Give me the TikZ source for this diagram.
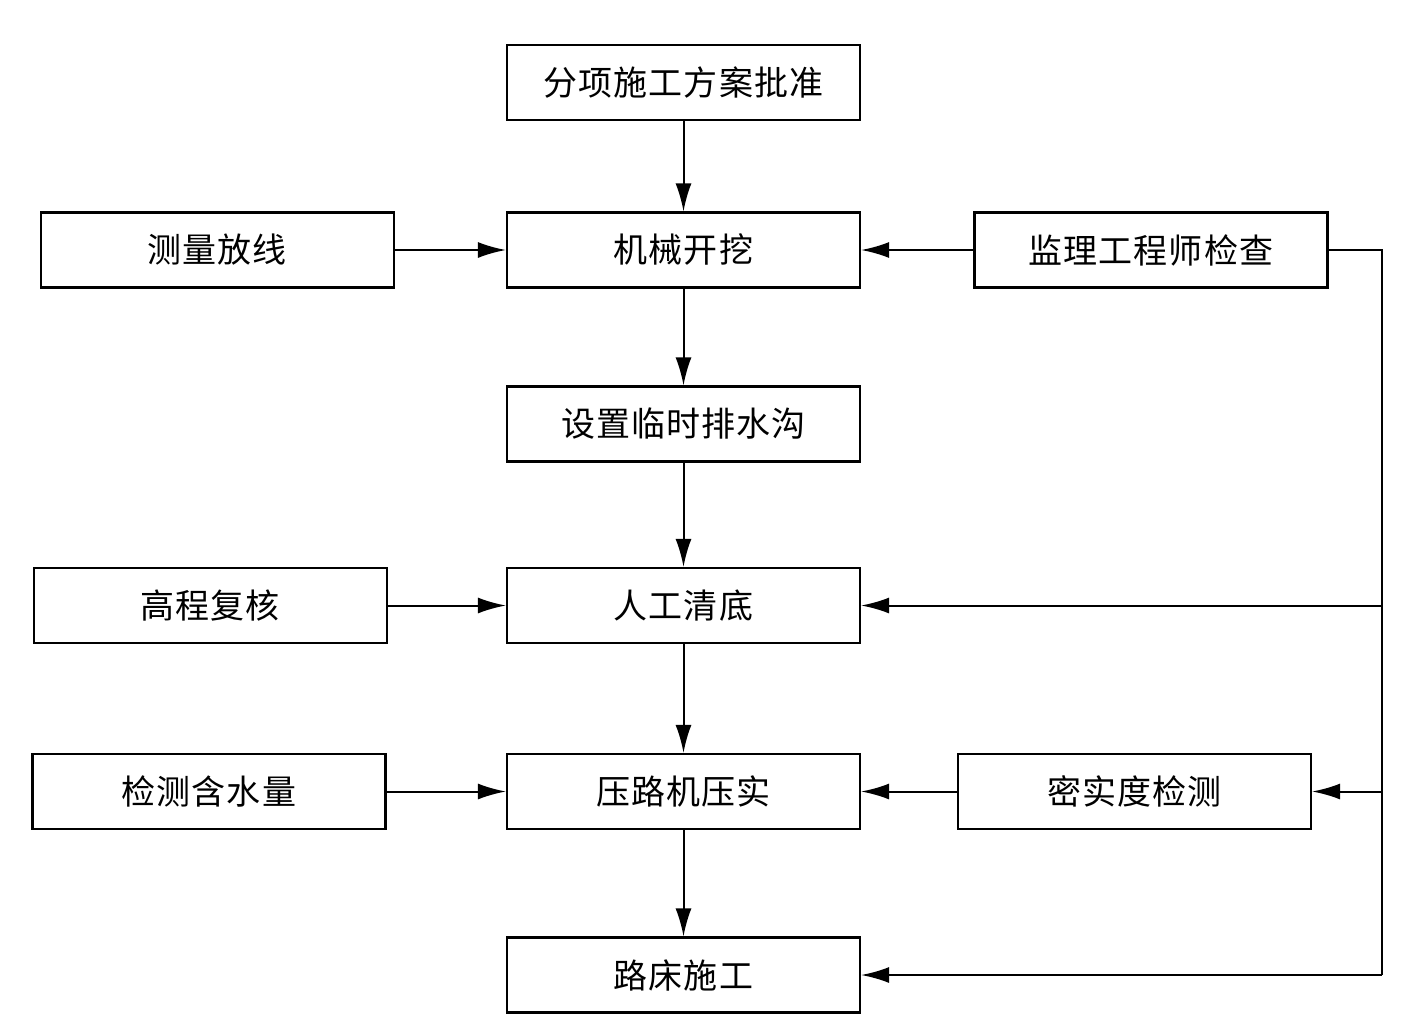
\documentclass[tikz,border=0pt]{standalone}
\usepackage{fontspec}
\setmainfont{Noto Sans CJK SC}
\usetikzlibrary{arrows.meta}
\begin{document}
\begin{tikzpicture}[x=1pt,y=-1pt,
  box/.style={draw,line width=2.2pt,minimum width=353pt,minimum height=75pt,inner sep=0pt,font=\fontsize{34}{34}\selectfont\addfontfeatures{LetterSpace=3}},
  arr/.style={line width=2pt,-{Latex[length=28pt,width=16pt]}},
  ln/.style={line width=2pt}]
\useasboundingbox (0,0) rectangle (1408,1031);
\node[box] (a) at (683.5,82.5) {分项施工方案批准};
\node[box] (b) at (683.5,250) {机械开挖};
\node[box] (c) at (217.5,250) {测量放线};
\node[box] (d) at (1151,250) {监理工程师检查};
\node[box] (e) at (683.5,424) {设置临时排水沟};
\node[box] (f) at (683.5,605.5) {人工清底};
\node[box] (g) at (210.5,605.5) {高程复核};
\node[box] (h) at (683.5,791.5) {压路机压实};
\node[box] (i) at (209,791.5) {检测含水量};
\node[box] (j) at (1134.5,791.5) {密实度检测};
\node[box] (k) at (683.5,975) {路床施工};
\coordinate (r1) at (1382,250);
\coordinate (r2) at (1382,605.5);
\coordinate (r3) at (1382,791.5);
\coordinate (r4) at (1382,975);
\draw[arr] (a) -- (b);
\draw[arr] (b) -- (e);
\draw[arr] (e) -- (f);
\draw[arr] (f) -- (h);
\draw[arr] (h) -- (k);
\draw[arr] (c) -- (b);
\draw[arr] (d) -- (b);
\draw[arr] (g) -- (f);
\draw[arr] (i) -- (h);
\draw[arr] (j) -- (h);
\draw[ln] (d.east) -- (r1) -- (r4);
\draw[arr] (r2) -- (f.east);
\draw[arr] (r3) -- (j.east);
\draw[arr] (r4) -- (k.east);
\end{tikzpicture}
\end{document}
